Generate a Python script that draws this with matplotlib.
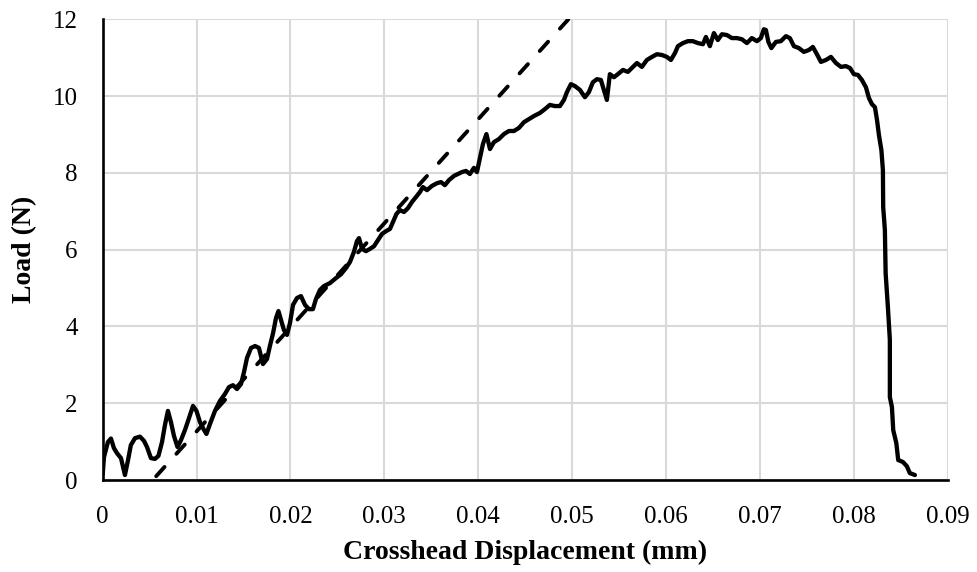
import matplotlib
matplotlib.use("Agg")
import matplotlib.pyplot as plt

# Load-displacement record (crosshead displacement in mm, load in N)
displacement = [
    0.0, 0.00014, 0.00056, 0.00088, 0.0012, 0.00152, 0.00195, 0.00237, 0.0027, 0.003,
    0.00344, 0.00397, 0.0044, 0.00472, 0.00514, 0.00557, 0.00594, 0.00632, 0.00663, 0.00695,
    0.00727, 0.00759, 0.00797, 0.00834, 0.00876, 0.00919, 0.00962, 0.00999, 0.01036, 0.01073,
    0.01105, 0.01143, 0.01196, 0.01249, 0.01302, 0.01345, 0.01388, 0.0143, 0.01473, 0.01505,
    0.01537, 0.0158, 0.01623, 0.01664, 0.01707, 0.0175, 0.01781, 0.01815, 0.01846, 0.01872,
    0.01899, 0.0193, 0.01963, 0.01995, 0.02027, 0.02069, 0.02112, 0.02155, 0.02197, 0.02239,
    0.02271, 0.02314, 0.02356, 0.02421, 0.02485, 0.02538, 0.02591, 0.02634, 0.02676, 0.02708,
    0.0273, 0.02762, 0.02804, 0.02847, 0.0289, 0.02932, 0.02975, 0.03017, 0.0306, 0.03092,
    0.03129, 0.03166, 0.03209, 0.03251, 0.03294, 0.03337, 0.03379, 0.03411, 0.03454, 0.03507,
    0.0356, 0.03603, 0.03645, 0.03688, 0.03741, 0.03784, 0.03826, 0.03869, 0.03911, 0.03954,
    0.03986, 0.04018, 0.0405, 0.04087, 0.04125, 0.04167, 0.0422, 0.04274, 0.04327, 0.0438,
    0.04433, 0.04487, 0.0454, 0.04593, 0.04657, 0.0471, 0.04763, 0.04816, 0.0487, 0.04913,
    0.04944, 0.04987, 0.0503, 0.05083, 0.05136, 0.05178, 0.05221, 0.05264, 0.05306, 0.05338,
    0.0537, 0.05402, 0.05445, 0.05487, 0.05541, 0.05594, 0.05636, 0.0569, 0.05743, 0.05796,
    0.0585, 0.05903, 0.05956, 0.06009, 0.06052, 0.06095, 0.06127, 0.0618, 0.06233, 0.06286,
    0.0634, 0.06393, 0.06425, 0.06467, 0.0651, 0.06552, 0.06595, 0.06648, 0.06701, 0.06755,
    0.06808, 0.06861, 0.06914, 0.06968, 0.0701, 0.07042, 0.07064, 0.0709, 0.07122, 0.0717,
    0.07223, 0.07277, 0.07319, 0.07362, 0.07415, 0.07468, 0.07522, 0.07564, 0.07607, 0.0765,
    0.07703, 0.07756, 0.0781, 0.07863, 0.07916, 0.07959, 0.08001, 0.08044, 0.08086, 0.08129,
    0.08161, 0.08193, 0.08225, 0.08247, 0.08268, 0.08294, 0.0831, 0.08313, 0.08331, 0.08339,
    0.08363, 0.08384, 0.08384, 0.08406, 0.0842, 0.08453, 0.08473, 0.08523, 0.08565, 0.08597,
    0.08651,
]
load = [
    0.15, 0.6, 0.99, 1.08, 0.83, 0.7, 0.57, 0.13, 0.52, 0.91,
    1.09, 1.13, 1.02, 0.86, 0.57, 0.55, 0.63, 0.99, 1.43, 1.8,
    1.51, 1.15, 0.86, 1.04, 1.3, 1.61, 1.93, 1.8, 1.51, 1.33,
    1.2, 1.46, 1.8, 2.06, 2.24, 2.42, 2.47, 2.37, 2.5, 2.81,
    3.18, 3.44, 3.49, 3.44, 3.02, 3.15, 3.49, 3.83, 4.22, 4.4,
    4.17, 3.91, 3.78, 4.09, 4.56, 4.74, 4.79, 4.56, 4.45, 4.45,
    4.71, 4.95, 5.05, 5.13, 5.26, 5.36, 5.52, 5.68, 5.94, 6.22,
    6.3, 6.02, 5.96, 6.02, 6.09, 6.25, 6.41, 6.48, 6.54, 6.72,
    6.93, 7.03, 6.98, 7.08, 7.24, 7.37, 7.5, 7.63, 7.55, 7.66,
    7.73, 7.76, 7.68, 7.81, 7.92, 7.97, 8.02, 8.05, 7.97, 8.13,
    8.02, 8.39, 8.75, 9.01, 8.62, 8.8, 8.88, 9.01, 9.09, 9.09,
    9.17, 9.32, 9.4, 9.48, 9.56, 9.66, 9.77, 9.74, 9.74, 9.9,
    10.1, 10.31, 10.26, 10.16, 9.97, 10.1, 10.36, 10.44, 10.42, 10.16,
    9.9, 10.57, 10.49, 10.57, 10.68, 10.63, 10.73, 10.86, 10.76, 10.94,
    11.02, 11.09, 11.07, 11.02, 10.94, 11.12, 11.3, 11.38, 11.43, 11.43,
    11.38, 11.35, 11.54, 11.3, 11.64, 11.46, 11.61, 11.59, 11.51, 11.51,
    11.48, 11.38, 11.51, 11.43, 11.51, 11.74, 11.72, 11.41, 11.25, 11.41,
    11.43, 11.56, 11.51, 11.3, 11.25, 11.15, 11.2, 11.28, 11.09, 10.89,
    10.94, 11.02, 10.86, 10.76, 10.78, 10.73, 10.57, 10.55, 10.42, 10.23,
    9.95, 9.79, 9.71, 9.38, 8.98, 8.59, 8.07, 7.11, 6.51, 5.39,
    4.51, 3.65, 2.16, 1.9, 1.3, 0.96, 0.52, 0.47, 0.36, 0.18,
    0.13,
]

# Linear fit of the elastic region
fit_x = [0.0057, 0.0496]
fit_y = [0.1, 12.0]

x_ticks = [0, 0.01, 0.02, 0.03, 0.04, 0.05, 0.06, 0.07, 0.08, 0.09]
x_tick_labels = ["0", "0.01", "0.02", "0.03", "0.04", "0.05", "0.06", "0.07", "0.08", "0.09"]
y_ticks = [0, 2, 4, 6, 8, 10, 12]

plt.rcParams["font.family"] = ["Liberation Serif", "DejaVu Serif"]

fig = plt.figure(figsize=(9.77, 5.72), dpi=100)
ax = fig.add_axes([0.1051, 0.1608, 0.8649, 0.8055])

ax.plot(fit_x, fit_y, color="black", linewidth=2.8,
        linestyle=(0, (3.2, 4.55)), dash_capstyle="round", zorder=3)
ax.plot(displacement, load, color="black", linewidth=3.1,
        solid_joinstyle="round", solid_capstyle="round", zorder=4)

ax.set_xlim(0, 0.09)
ax.set_ylim(0, 12)
ax.set_xticks(x_ticks)
ax.set_xticklabels(x_tick_labels)
ax.set_yticks(y_ticks)

ax.grid(True, color="#d9d9d9", linewidth=1.5, zorder=0)
ax.set_axisbelow(True)

for side in ("top", "right"):
    ax.spines[side].set_visible(False)
for side in ("left", "bottom"):
    ax.spines[side].set_color("black")
    ax.spines[side].set_linewidth(1.9)
    ax.spines[side].set_zorder(5)

ax.tick_params(axis="both", length=0, labelsize=18, pad=18)
ax.tick_params(axis="x", pad=19)

ax.set_xlabel("Crosshead Displacement (mm)", fontsize=20, fontweight="bold")
ax.set_ylabel("Load (N)", fontsize=20, fontweight="bold")
ax.xaxis.set_label_coords(0.5, -0.158)
ax.xaxis.label.set_va("center")
ax.yaxis.set_label_coords(-0.092, 0.5)
ax.yaxis.label.set_va("center")

fig.savefig("out.png", dpi=100)
